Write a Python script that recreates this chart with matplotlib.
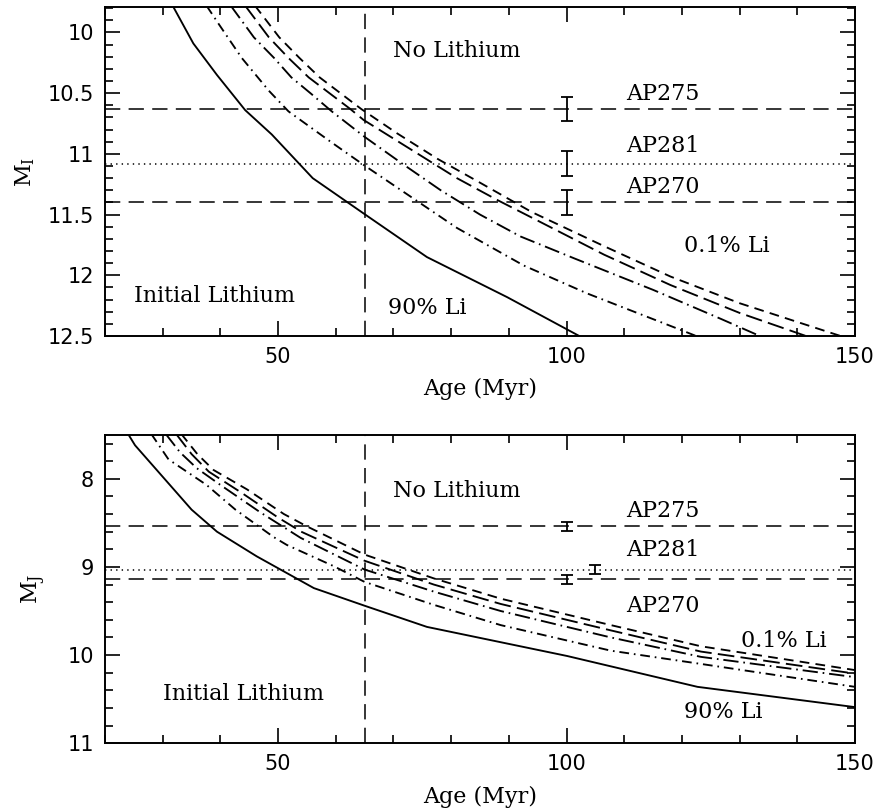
import matplotlib
matplotlib.use("Agg")
import matplotlib.pyplot as plt
from matplotlib.ticker import MultipleLocator

plt.rcParams['lines.scale_dashes'] = False

# ---------------- I-band panel: lithium depletion boundaries ----------------
age_I_90 = [31.5, 35.3, 39.4, 44.3, 48.9, 56.0, 64.8, 75.8, 89.7, 102.2]
mag_I_90 = [9.76, 10.09, 10.35, 10.64, 10.84, 11.20, 11.49, 11.85, 12.18, 12.50]

age_I_dd = [37.6, 39.7, 43.7, 48.4, 51.8, 55.3, 59.1, 64.8, 72.9, 81.0, 92.6, 103.6, 119.8, 123.0]
mag_I_dd = [9.78, 9.93, 10.21, 10.48, 10.65, 10.77, 10.90, 11.09, 11.35, 11.61, 11.92, 12.15, 12.45, 12.51]

age_I_ldd = [41.8, 45.8, 49.3, 52.3, 55.6, 59.3, 65.0, 71.8, 78.2, 85.0, 92.0, 101.3, 115.0, 126.8, 133.5]
mag_I_ldd = [9.78, 10.04, 10.21, 10.37, 10.50, 10.65, 10.86, 11.09, 11.30, 11.50, 11.68, 11.86, 12.12, 12.36, 12.50]

age_I_ld = [44.3, 48.4, 51.8, 55.3, 58.9, 62.5, 64.8, 72.9, 81.0, 88.0, 95.0, 106.5, 118.0, 130.0, 141.5]
mag_I_ld = [9.78, 10.04, 10.21, 10.37, 10.50, 10.63, 10.72, 10.96, 11.20, 11.38, 11.55, 11.83, 12.08, 12.31, 12.50]

age_I_sd = [46.0, 50.2, 53.7, 57.2, 60.8, 64.4, 70.6, 77.6, 85.1, 94.0, 106.5, 118.0, 130.0, 147.5]
mag_I_sd = [9.78, 10.04, 10.21, 10.37, 10.50, 10.63, 10.83, 11.04, 11.24, 11.48, 11.76, 12.01, 12.23, 12.50]

stars_I = [10.63, 11.08, 11.40]          # AP275, AP281, AP270
stars_I_age = [100.0, 100.0, 100.0]
stars_I_err = [0.10, 0.10, 0.10]

# ---------------- J-band panel ----------------
age_J_90 = [23.6, 25.2, 35.0, 39.4, 46.3, 56.2, 65.0, 75.8, 100.1, 122.7, 150.0]
mag_J_90 = [7.45, 7.62, 8.35, 8.60, 8.88, 9.24, 9.44, 9.68, 10.01, 10.36, 10.59]

age_J_dd = [28.0, 31.0, 37.6, 42.6, 49.2, 51.5, 59.6, 65.0, 77.0, 88.6, 107.7, 123.3, 150.0]
mag_J_dd = [7.49, 7.78, 8.07, 8.35, 8.66, 8.75, 8.99, 9.17, 9.43, 9.66, 9.95, 10.10, 10.36]

age_J_ldd = [30.5, 33.0, 35.9, 40.0, 46.9, 53.9, 65.0, 77.0, 88.6, 107.7, 123.3, 150.0]
mag_J_ldd = [7.49, 7.70, 7.88, 8.07, 8.38, 8.67, 9.03, 9.28, 9.50, 9.80, 10.02, 10.25]

age_J_ld = [32.3, 35.0, 38.0, 43.7, 50.0, 54.0, 65.0, 77.0, 88.6, 107.7, 123.3, 150.0]
mag_J_ld = [7.49, 7.72, 7.92, 8.16, 8.44, 8.60, 8.93, 9.20, 9.42, 9.72, 9.96, 10.21]

age_J_sd = [33.2, 36.0, 38.8, 44.6, 51.0, 55.0, 65.0, 77.0, 88.6, 107.7, 123.3, 150.0]
mag_J_sd = [7.49, 7.72, 7.90, 8.12, 8.40, 8.54, 8.86, 9.13, 9.36, 9.66, 9.90, 10.17]

stars_J = [8.54, 9.03, 9.14]             # AP275, AP281, AP270
stars_J_age = [100.0, 105.0, 100.0]
stars_J_err = [0.05, 0.05, 0.05]

cluster_age = 65.0
star_names = ["AP275", "AP281", "AP270"]

SERIF = "DejaVu Serif"
SANS = "DejaVu Sans"
TXT = 16

styles = [
    dict(ls='-'),
    dict(ls=(0, (7, 3.5, 1.2, 3.5))),
    dict(ls=(0, (11, 3.5, 1.2, 3.5))),
    dict(ls=(0, (12, 4.5))),
    dict(ls=(0, (7, 4.5))),
]

fig = plt.figure(figsize=(8.79, 8.11), dpi=100)
ax1 = fig.add_axes([0.1195, 0.5857, 0.8532, 0.4057])
ax2 = fig.add_axes([0.1195, 0.0835, 0.8532, 0.3805])


def style_axes(ax, ylim, major, minor):
    ax.set_xlim(20, 150)
    ax.set_ylim(*ylim)
    ax.xaxis.set_major_locator(MultipleLocator(50))
    ax.xaxis.set_minor_locator(MultipleLocator(10))
    ax.yaxis.set_major_locator(MultipleLocator(major))
    ax.yaxis.set_minor_locator(MultipleLocator(minor))
    ax.tick_params(which='both', direction='in', top=True, right=True, width=1.2)
    ax.tick_params(which='major', length=11, labelsize=15, pad=8)
    ax.tick_params(which='minor', length=5.5)
    for lab in ax.get_xticklabels() + ax.get_yticklabels():
        lab.set_fontfamily(SANS)
    for sp in ax.spines.values():
        sp.set_linewidth(1.4)
    ax.set_xlabel("Age (Myr)", fontsize=TXT, family=SERIF, labelpad=8)


def draw_panel(ax, curves, stars, s_age, s_err, cap):
    for (a, m), st in zip(curves, styles):
        ax.plot(a, m, color='k', lw=1.35, **st)
    ax.axvline(cluster_age, color='k', lw=1.1, ls=(0, (11, 6)))
    for val, ls in zip(stars, [(0, (11, 6)), (0, (1, 3)), (0, (11, 6))]):
        ax.axhline(val, color='k', lw=1.1, ls=ls)
    ax.errorbar(s_age, stars, yerr=s_err, fmt='none', ecolor='k',
                elinewidth=1.3, capsize=cap, capthick=1.3)


draw_panel(ax1,
           [(age_I_90, mag_I_90), (age_I_dd, mag_I_dd), (age_I_ldd, mag_I_ldd),
            (age_I_ld, mag_I_ld), (age_I_sd, mag_I_sd)],
           stars_I, stars_I_age, stars_I_err, 4.5)
draw_panel(ax2,
           [(age_J_90, mag_J_90), (age_J_dd, mag_J_dd), (age_J_ldd, mag_J_ldd),
            (age_J_ld, mag_J_ld), (age_J_sd, mag_J_sd)],
           stars_J, stars_J_age, stars_J_err, 4.5)

style_axes(ax1, (12.5, 9.79), 0.5, 0.1)
style_axes(ax2, (11.0, 7.5), 1.0, 0.2)
ax1.yaxis.set_major_formatter(plt.FuncFormatter(lambda v, p: f"{v:g}"))

ax1.set_ylabel(r"M$_\mathregular{I}$", fontsize=TXT, family=SERIF)
ax1.yaxis.set_label_coords(-0.091, 0.5)
ax2.set_ylabel(r"M$_\mathregular{J}$", fontsize=TXT, family=SERIF)
ax2.yaxis.set_label_coords(-0.076, 0.5)


def label(ax, x, y, s):
    ax.text(x, y, s, fontsize=TXT, family=SERIF, ha='left', va='baseline')


label(ax1, 70.0, 10.206, "No Lithium")
label(ax1, 110.3, 10.558, star_names[0])
label(ax1, 110.3, 10.986, star_names[1])
label(ax1, 110.3, 11.324, star_names[2])
label(ax1, 120.3, 11.81, "0.1% Li")
label(ax1, 25.0, 12.22, "Initial Lithium")
label(ax1, 69.1, 12.315, "90% Li")

label(ax2, 70.0, 8.21, "No Lithium")
label(ax2, 110.3, 8.43, star_names[0])
label(ax2, 110.3, 8.88, star_names[1])
label(ax2, 110.3, 9.515, star_names[2])
label(ax2, 130.2, 9.905, "0.1% Li")
label(ax2, 120.3, 10.71, "90% Li")
label(ax2, 30.1, 10.51, "Initial Lithium")

fig.savefig("out.png", dpi=100)
